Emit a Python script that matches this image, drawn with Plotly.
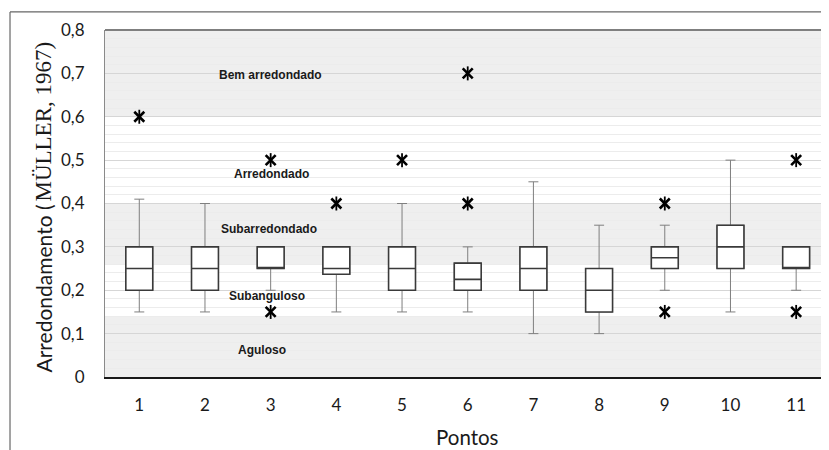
import plotly.graph_objects as go

# ---- data ----
pontos = [1, 2, 3, 4, 5, 6, 7, 8, 9, 10, 11]
q1 = [0.20, 0.20, 0.25, 0.237, 0.20, 0.20, 0.20, 0.15, 0.25, 0.25, 0.25]
median = [0.25, 0.25, 0.25, 0.25, 0.25, 0.225, 0.25, 0.20, 0.275, 0.30, 0.25]
q3 = [0.30, 0.30, 0.30, 0.30, 0.30, 0.2625, 0.30, 0.25, 0.30, 0.35, 0.30]
lower = [0.15, 0.15, 0.20, 0.15, 0.15, 0.15, 0.10, 0.10, 0.20, 0.15, 0.20]
upper = [0.41, 0.40, 0.30, 0.30, 0.40, 0.30, 0.45, 0.35, 0.35, 0.50, 0.30]

outlier_x = [1, 3, 3, 4, 5, 6, 6, 9, 9, 11, 11]
outlier_y = [0.60, 0.50, 0.15, 0.40, 0.50, 0.70, 0.40, 0.40, 0.15, 0.50, 0.15]

# rounding classes (Müller, 1967): name, lower limit, upper limit
class_names = ["Aguloso", "Subanguloso", "Subarredondado", "Arredondado", "Bem arredondado"]
class_low = [0.0, 0.139, 0.258, 0.40, 0.60]
class_high = [0.139, 0.258, 0.40, 0.60, 0.80]
class_shaded = [True, False, True, False, True]

y_tickvals = [0, 0.1, 0.2, 0.3, 0.4, 0.5, 0.6, 0.7, 0.8]
y_ticktext = ["0", "0,1", "0,2", "0,3", "0,4", "0,5", "0,6", "0,7", "0,8"]

# label placement (data coords)
label_x = [2.87, 2.95, 2.98, 3.02, 3.0]
label_y = [0.062, 0.187, 0.341, 0.467, 0.696]

fig = go.Figure()

# whiskers + box (grey thin lines)
fig.add_trace(go.Box(
    x=pontos, q1=q1, median=median, q3=q3, lowerfence=lower, upperfence=upper,
    width=0.41, whiskerwidth=0.37, fillcolor="white",
    line=dict(color="#7f7f7f", width=1), boxpoints=False, hoverinfo="skip",
    showlegend=False,
))
# box outline on top (dark)
fig.add_trace(go.Box(
    x=pontos, q1=q1, median=median, q3=q3, lowerfence=q1, upperfence=q3,
    width=0.41, whiskerwidth=0, fillcolor="white",
    line=dict(color="#3a3a3a", width=1.6), boxpoints=False,
    showlegend=False,
))
# outliers as Excel-like star markers
fig.add_trace(go.Scatter(
    x=outlier_x, y=outlier_y, mode="markers",
    marker=dict(symbol="x-thin-open", size=10, color="black", line=dict(color="black", width=2.6)),
    showlegend=False,
))
fig.add_trace(go.Scatter(
    x=outlier_x, y=outlier_y, mode="markers",
    marker=dict(symbol="line-ns-open", size=10, color="black", line=dict(color="black", width=1.8)),
    showlegend=False,
))

shapes = []
for lo, hi, sh in zip(class_low, class_high, class_shaded):
    if sh:
        shapes.append(dict(type="rect", xref="paper", yref="y", x0=0, x1=1, y0=lo, y1=hi,
                           fillcolor="#efefef", line=dict(width=0), layer="below"))
# top border of plot area
shapes.append(dict(type="line", xref="paper", yref="paper", x0=0, x1=1, y0=1, y1=1,
                   line=dict(color="#7f7f7f", width=2)))
# outer chart frame
shapes.append(dict(type="line", xref="paper", yref="paper", x0=-0.1312, x1=1.02, y0=1.052, y1=1.052,
                   line=dict(color="#666666", width=1.2)))
shapes.append(dict(type="line", xref="paper", yref="paper", x0=-0.1312, x1=-0.1312, y0=1.052, y1=-0.3,
                   line=dict(color="#666666", width=1.2)))

annotations = []
for name, lx, ly in zip(class_names, label_x, label_y):
    annotations.append(dict(x=lx, y=ly, xref="x", yref="y", text="<b>%s</b>" % name,
                            showarrow=False, xanchor="center", yanchor="middle",
                            font=dict(family="Liberation Sans", size=12, color="#1a1a1a")))
# y-axis title: sans part + serif part
annotations.append(dict(
    x=-0.0843, y=0.255, xref="paper", yref="paper", textangle=-90, showarrow=False,
    xanchor="center", yanchor="middle",
    text="Arredondamento (",
    font=dict(family="Lato", size=21, color="#1a1a1a"),
))
annotations.append(dict(
    x=-0.0843, y=0.736, xref="paper", yref="paper", textangle=-90, showarrow=False,
    xanchor="center", yanchor="middle",
    text="MÜLLER, 1967)",
    font=dict(family="Liberation Serif", size=23, color="#1a1a1a"),
))
annotations.append(dict(
    x=0.5, y=-0.173, xref="paper", yref="paper", showarrow=False, text="Pontos",
    xanchor="center", yanchor="middle",
    font=dict(family="Lato", size=20.5, color="#1a1a1a"),
))

# page body has an 8px margin: figure is drawn 8px in from the window edge
fig.update_layout(
    width=821, height=442,
    margin=dict(l=97, r=0, t=22, b=73),
    paper_bgcolor="white", plot_bgcolor="white",
    boxmode="overlay",
    shapes=shapes, annotations=annotations,
    font=dict(family="Lato", size=17, color="#1a1a1a"),
    xaxis=dict(range=[0.478, 11.5], tickvals=pontos, ticktext=[str(p) for p in pontos],
               showgrid=False, zeroline=False, showline=True, linecolor="#1a1a1a", linewidth=1.5,
               ticks="", ticklabelstandoff=12, fixedrange=True),
    yaxis=dict(range=[0, 0.8], tickvals=y_tickvals, ticktext=y_ticktext,
               showgrid=True, gridcolor="#d6d6d6", gridwidth=1,
               minor=dict(dtick=0.02, showgrid=True, gridcolor="#ececec", gridwidth=1),
               zeroline=False, showline=True, linecolor="#8a8a8a", linewidth=1,
               ticks="", ticklabelstandoff=16, fixedrange=True),
)

fig.write_html("out.html")
